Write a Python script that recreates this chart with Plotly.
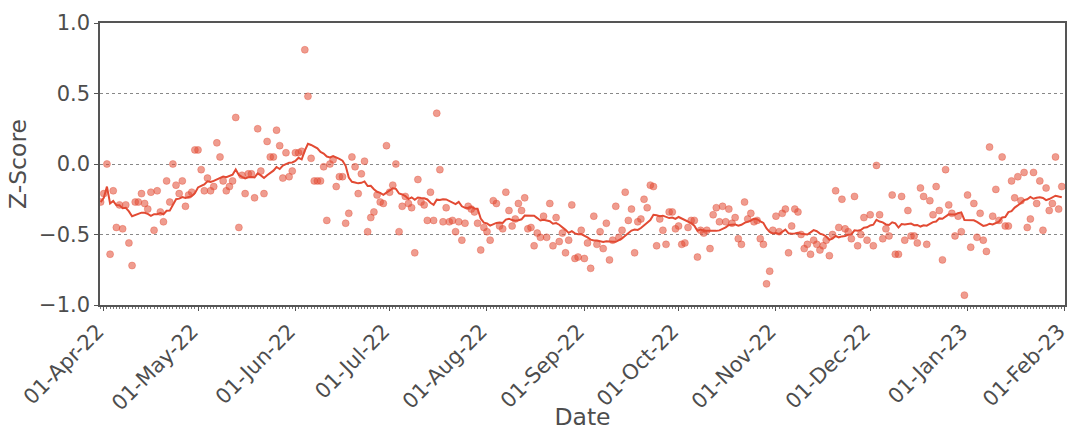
import pandas as pd
import plotly.graph_objects as go

start_date = "2022-03-31"

zscore_part1 = [
    -0.27, -0.21, 0.00, -0.64, -0.19, -0.45, -0.29, -0.46, -0.29, -0.56,
    -0.72, -0.27, -0.27, -0.21, -0.28, -0.32, -0.20, -0.47, -0.19, -0.34,
    -0.41, -0.12, -0.27, 0.00, -0.15, -0.21, -0.12, -0.30, -0.22, -0.20,
    0.10, 0.10, -0.04, -0.19, -0.10, -0.19, -0.16, 0.15, 0.05, -0.12,
    -0.19, -0.16, -0.12, 0.33, -0.45, -0.08, -0.21, -0.07, -0.07, -0.24,
    0.25, -0.05, -0.21, 0.16, 0.05,
]
zscore_part2 = [
    0.05, 0.24, 0.13, -0.10, 0.08, -0.09, -0.05, 0.08, 0.08, 0.09,
    0.81, 0.48, 0.04, -0.12, -0.12, -0.12, -0.02, -0.40, 0.00, 0.03,
    -0.16, -0.09, -0.09, -0.42, -0.35, 0.05, -0.02, -0.21, -0.07, 0.02,
    -0.48, -0.38, -0.34, -0.22, -0.27, -0.28, 0.13, -0.20, -0.15, 0.00,
    -0.48, -0.30, -0.23, -0.28, -0.31, -0.63, -0.11, -0.27, -0.29, -0.40,
    -0.20,
]
zscore_part3 = [
    -0.40, 0.36, -0.04, -0.41, -0.31, -0.41, -0.40, -0.48, -0.41, -0.54,
    -0.42, -0.30, -0.32, -0.34, -0.42, -0.61, -0.45, -0.48, -0.54, -0.26,
    -0.28, -0.44, -0.46, -0.20, -0.33, -0.44, -0.39, -0.28, -0.33, -0.24,
    -0.46, -0.45, -0.58, -0.49, -0.52, -0.37, -0.52, -0.28, -0.58, -0.38,
    -0.55, -0.49, -0.63, -0.54, -0.29, -0.67, -0.66, -0.47, -0.67, -0.56,
    -0.74, -0.37,
]
zscore_part4 = [
    -0.57, -0.48, -0.60, -0.42, -0.68, -0.54, -0.30, -0.52, -0.47, -0.20,
    -0.40, -0.32, -0.63, -0.41, -0.39, -0.25, -0.31, -0.15, -0.16, -0.58,
    -0.39, -0.47, -0.57, -0.34, -0.34, -0.46, -0.44, -0.57, -0.56, -0.45,
    -0.40, -0.40, -0.66, -0.47, -0.49, -0.47, -0.60, -0.36, -0.31, -0.41,
    -0.30, -0.41, -0.32, -0.42, -0.38, -0.53, -0.57, -0.27, -0.39, -0.35,
]
zscore_part5 = [
    -0.41, -0.40, -0.53, -0.57, -0.85, -0.76, -0.47, -0.37, -0.48, -0.35,
    -0.32, -0.63, -0.44, -0.32, -0.34, -0.50, -0.60, -0.57, -0.64, -0.54,
    -0.57, -0.61, -0.58, -0.54, -0.65, -0.50, -0.19, -0.45, -0.25, -0.46,
    -0.48, -0.53, -0.23, -0.58, -0.50, -0.38, -0.54, -0.36, -0.58, -0.01,
    -0.36, -0.53, -0.46, -0.51, -0.22, -0.64, -0.64, -0.23, -0.54, -0.33,
    -0.51,
]
zscore_part6 = [
    -0.51, -0.56, -0.17, -0.23, -0.57, -0.26, -0.36, -0.16, -0.33, -0.68,
    -0.04, -0.29, -0.35, -0.51, -0.37, -0.48, -0.93, -0.22, -0.59, -0.28,
    -0.52, -0.35, -0.54, -0.62, 0.12, -0.37, -0.18, -0.40, 0.05, -0.44,
    -0.44, -0.12, -0.24, -0.09, -0.26, -0.06, -0.45, -0.39, -0.06, -0.28,
    -0.12, -0.47, -0.17, -0.33, -0.28, 0.05, -0.32, -0.16,
]

rolling_window = 14
y_title = "Z-Score"
x_title = "Date"

zscores = (zscore_part1 + zscore_part2 + zscore_part3
           + zscore_part4 + zscore_part5 + zscore_part6)
dates = pd.date_range(start_date, periods=len(zscores), freq="D")
series = pd.Series(zscores, index=dates)
rolling = series.rolling(rolling_window, min_periods=1).mean()

text_color = "#4d4d4d"
red = "#E24A33"

fig = go.Figure()
fig.add_trace(go.Scatter(
    x=dates, y=zscores, mode="markers",
    marker=dict(size=7, color="rgba(226,74,51,0.55)",
                line=dict(color="rgba(226,74,51,0.35)", width=1)),
    showlegend=False,
))
fig.add_trace(go.Scatter(
    x=dates, y=rolling.values, mode="lines",
    line=dict(color=red, width=2),
    showlegend=False,
))

fig.update_layout(
    width=1072, height=431,
    margin=dict(l=100, r=7, t=23, b=126),
    paper_bgcolor="white", plot_bgcolor="white",
    font=dict(family="DejaVu Sans", color=text_color, size=21),
)
fig.add_annotation(
    text=y_title, textangle=-90, showarrow=False,
    xref="paper", yref="paper", x=0, y=0.5,
    xanchor="right", yanchor="middle", xshift=-66,
    font=dict(size=23.5, color=text_color),
)
fig.update_xaxes(
    range=["2022-03-30 19:00", "2023-02-01 00:30"],
    tickmode="linear", tick0="2022-04-01", dtick="M1",
    tickformat="%d-%b-%y", tickangle=-45,
    ticks="outside", ticklen=4, tickwidth=1.2, tickcolor="#555",
    minor=dict(ticks="outside", ticklen=2, tickwidth=0.8, tickcolor="#777",
               dtick=86400000, tick0="2022-04-01", showgrid=False),
    showgrid=False, zeroline=False,
    showline=True, mirror=True, linecolor="#555", linewidth=1.5,
    title=dict(text=x_title, font=dict(size=23.5, color=text_color), standoff=8),
    tickfont=dict(size=21, color=text_color),
    ticklabeloverflow="allow", ticklabelshift=-6,
    automargin=False,
)
fig.update_yaxes(
    range=[-1, 1], tickmode="linear", tick0=-1, dtick=0.5, tickformat=".1f",
    ticks="outside", ticklen=4, tickwidth=1.2, tickcolor="#555",
    showgrid=True, gridcolor="#888", griddash="dot", gridwidth=1,
    zeroline=False,
    showline=True, mirror=True, linecolor="#555", linewidth=1.5,
    tickfont=dict(size=21, color=text_color),
    automargin=False,
)

fig.write_html("out.html")
